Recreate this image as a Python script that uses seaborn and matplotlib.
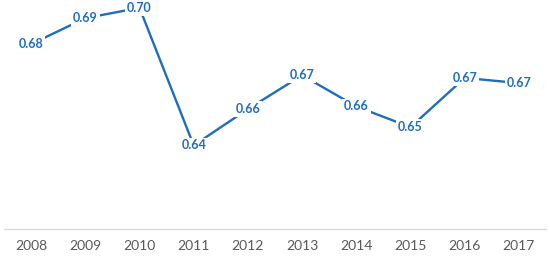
import matplotlib
matplotlib.use("Agg")
import matplotlib.pyplot as plt
import seaborn as sns
import pandas as pd

years = ["2008", "2009", "2010", "2011", "2012", "2013", "2014", "2015", "2016", "2017"]
values = [0.682, 0.692, 0.696, 0.643, 0.657, 0.670, 0.658, 0.650, 0.669, 0.667]
labels = ["0.68", "0.69", "0.70", "0.64", "0.66", "0.67", "0.66", "0.65", "0.67", "0.67"]

sns.set_theme(style="white")
plt.rcParams['font.family'] = ['Lato', 'DejaVu Sans']

df = pd.DataFrame({"year": years, "value": values})
df["pos"] = range(len(years))

fig = plt.figure(figsize=(5.5, 2.56), dpi=100)
ax = fig.add_axes([4/550, 27/256, 542/550, 229/256])
blue = "#1F6DBE"
sns.lineplot(data=df, x="pos", y="value", ax=ax, color=blue, linewidth=1.7)

for i, (v, t) in enumerate(zip(values, labels)):
    ax.text(i, v, t, ha="center", va="center", color=blue, fontsize=9,
            fontweight="bold", clip_on=False,
            bbox=dict(boxstyle="square,pad=0.15", fc="white", ec="none"))

ax.set_xlim(-0.5, 9.5)
ax.set_ylim(0.6108, 0.699)
ax.set_xticks(range(len(years)))
ax.set_xticklabels(years, color="#595959", fontsize=10)
ax.set_yticks([])
ax.set_xlabel("")
ax.set_ylabel("")
for s in ["top", "left", "right"]:
    ax.spines[s].set_visible(False)
ax.spines["bottom"].set_color("#D9D9D9")
ax.spines["bottom"].set_linewidth(1.0)
ax.tick_params(axis="x", length=0, pad=8)

fig.savefig("out.png", dpi=100)
